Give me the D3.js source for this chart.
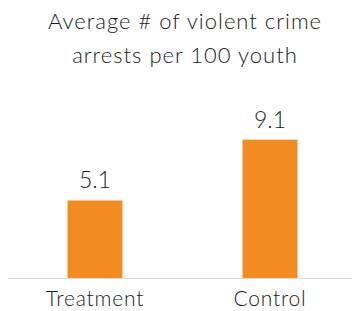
<!DOCTYPE html>
<html lang="en">
<head>
    <meta charset="UTF-8">
    <title>Violent crime arrests</title>
    <script src="https://d3js.org/d3.v7.min.js"></script>
    <style>
        body { margin: 0; background: #fff; }
        text { font-family: Lato, "Open Sans", sans-serif; font-weight: 300; fill: #1a1a1a; }
    </style>
</head>
<body>
    <script>
        const groups = ["Treatment", "Control"];
        const arrests = [5.1, 9.1];
        const titleLines = ["Average # of violent crime", "arrests per 100 youth"];

        const w = 352, h = 311;
        const base = 278;

        const svg = d3.select("body")
            .append("svg")
            .attr("width", w)
            .attr("height", h);

        const xScale = d3.scaleBand()
            .domain(groups)
            .range([7.5, 357.5])
            .paddingInner(0.686)
            .paddingOuter(0.343);

        const yScale = d3.scaleLinear()
            .domain([0, 10])
            .range([base, base - 152]);

        // title
        svg.append("g")
            .selectAll("text")
            .data(titleLines)
            .enter()
            .append("text")
            .attr("x", 185)
            .attr("y", (d, i) => 29 + i * 34)
            .attr("text-anchor", "middle")
            .style("font-size", "22px")
            .style("letter-spacing", "1px")
            .text(d => d);

        svg.selectAll("rect")
            .data(arrests)
            .enter()
            .append("rect")
            .attr("x", (d, i) => xScale(groups[i]))
            .attr("y", d => yScale(d))
            .attr("width", xScale.bandwidth())
            .attr("height", d => base - yScale(d))
            .attr("fill", "#f28c22");

        // baseline
        svg.append("line")
            .attr("x1", 8)
            .attr("x2", w)
            .attr("y1", base + 0.5)
            .attr("y2", base + 0.5)
            .attr("stroke", "#d9d9d9")
            .attr("stroke-width", 1);

        // value labels
        svg.append("g")
            .selectAll("text")
            .data(arrests)
            .enter()
            .append("text")
            .attr("x", (d, i) => xScale(groups[i]) + xScale.bandwidth() / 2)
            .attr("y", d => yScale(d) - 12)
            .attr("text-anchor", "middle")
            .style("font-size", "23px")
            .text(d => d.toFixed(1));

        // category labels
        svg.append("g")
            .selectAll("text")
            .data(groups)
            .enter()
            .append("text")
            .attr("x", d => xScale(d) + xScale.bandwidth() / 2)
            .attr("y", 306)
            .attr("text-anchor", "middle")
            .style("font-size", "21px")
            .style("letter-spacing", "0.8px")
            .text(d => d);
    </script>
</body>
</html>
